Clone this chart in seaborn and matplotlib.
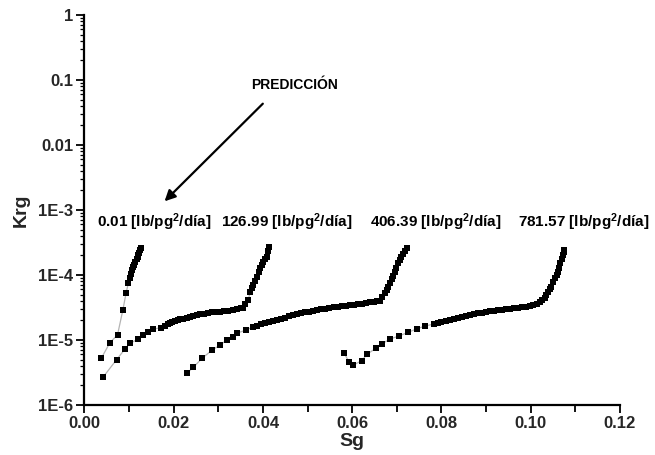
import matplotlib
matplotlib.use("Agg")
import matplotlib.pyplot as plt
import matplotlib.ticker as mticker
import numpy as np
import pandas as pd
import seaborn as sns

# Gas saturation (Sg) and gas relative permeability (Krg) for each injection rate
rate_labels = ["0.01", "126.99", "406.39", "781.57"]

sg_001 = [0.0038, 0.0057, 0.0074, 0.0086, 0.0093, 0.0098, 0.0101, 0.0104, 0.0107,
          0.0109, 0.0112, 0.0114, 0.0117, 0.0119, 0.0121, 0.0123, 0.0125, 0.0126]
krg_001 = [5.3e-6, 9.1e-6, 1.2e-5, 2.9e-5, 5.2e-5, 7.4e-5, 9.0e-5, 1.05e-4, 1.2e-4,
           1.32e-4, 1.45e-4, 1.58e-4, 1.75e-4, 1.9e-4, 2.05e-4, 2.2e-4, 2.4e-4, 2.6e-4]

sg_127 = [0.0042, 0.0072, 0.0091, 0.0102, 0.0121, 0.0132, 0.0143, 0.0153, 0.0171,
          0.0180, 0.0186, 0.0192, 0.0197, 0.0203, 0.0209, 0.0214, 0.0220, 0.0229,
          0.0236, 0.0244, 0.0251, 0.0259, 0.0268, 0.0277, 0.0286, 0.0295, 0.0304,
          0.0313, 0.0322, 0.0333, 0.0342, 0.0350, 0.0356, 0.0360, 0.0367, 0.0371,
          0.0375, 0.0378, 0.0382, 0.0386, 0.0390, 0.0393, 0.0397, 0.0400, 0.0404,
          0.0408, 0.0411, 0.0413]
krg_127 = [2.7e-6, 5.0e-6, 7.3e-6, 8.9e-6, 1.04e-5, 1.19e-5, 1.34e-5, 1.46e-5, 1.55e-5,
           1.66e-5, 1.75e-5, 1.85e-5, 1.92e-5, 1.98e-5, 2.03e-5, 2.08e-5, 2.13e-5, 2.2e-5,
           2.27e-5, 2.34e-5, 2.41e-5, 2.48e-5, 2.55e-5, 2.63e-5, 2.66e-5, 2.69e-5, 2.72e-5,
           2.78e-5, 2.84e-5, 2.9e-5, 2.98e-5, 3.06e-5, 3.14e-5, 3.6e-5, 4.1e-5, 5.5e-5,
           6.2e-5, 7.0e-5, 8.2e-5, 9.4e-5, 1.1e-4, 1.27e-4, 1.43e-4, 1.6e-4, 1.75e-4,
           1.91e-4, 2.3e-4, 2.7e-4]

sg_406 = [0.0230, 0.0244, 0.0263, 0.0285, 0.0304, 0.0319, 0.0333, 0.0341, 0.0363,
          0.0378, 0.0387, 0.0396, 0.0405, 0.0414, 0.0423, 0.0432, 0.0441, 0.0450,
          0.0459, 0.0468, 0.0477, 0.0486, 0.0495, 0.0504, 0.0513, 0.0522, 0.0531,
          0.0540, 0.0549, 0.0558, 0.0567, 0.0576, 0.0585, 0.0594, 0.0603, 0.0612,
          0.0621, 0.0630, 0.0639, 0.0648, 0.0656, 0.0662, 0.0667, 0.0673, 0.0677,
          0.0680, 0.0684, 0.0688, 0.0692, 0.0695, 0.0699, 0.0703, 0.0707, 0.0710,
          0.0714, 0.0718, 0.0723]
krg_406 = [3.1e-6, 3.8e-6, 5.2e-6, 6.9e-6, 8.4e-6, 1.0e-5, 1.12e-5, 1.27e-5, 1.43e-5,
           1.6e-5, 1.67e-5, 1.75e-5, 1.83e-5, 1.9e-5, 1.97e-5, 2.05e-5, 2.12e-5, 2.2e-5,
           2.3e-5, 2.4e-5, 2.5e-5, 2.58e-5, 2.66e-5, 2.74e-5, 2.82e-5, 2.9e-5, 2.97e-5,
           3.05e-5, 3.12e-5, 3.18e-5, 3.24e-5, 3.3e-5, 3.36e-5, 3.42e-5, 3.5e-5, 3.56e-5,
           3.64e-5, 3.72e-5, 3.8e-5, 3.88e-5, 3.95e-5, 4.05e-5, 4.6e-5, 5.2e-5, 5.9e-5,
           6.6e-5, 7.6e-5, 8.6e-5, 9.8e-5, 1.12e-4, 1.3e-4, 1.51e-4, 1.7e-4, 1.91e-4,
           2.1e-4, 2.36e-4, 2.57e-4]

sg_782 = [0.0581, 0.0593, 0.0602, 0.0621, 0.0633, 0.0653, 0.0666, 0.0684, 0.0704,
          0.0725, 0.0744, 0.0763, 0.0783, 0.0792, 0.0800, 0.0809, 0.0818, 0.0827,
          0.0836, 0.0845, 0.0854, 0.0863, 0.0872, 0.0881, 0.0890, 0.0899, 0.0908,
          0.0917, 0.0926, 0.0935, 0.0944, 0.0953, 0.0962, 0.0971, 0.0980, 0.0989,
          0.0998, 0.1006, 0.1013, 0.1020, 0.1026, 0.1031, 0.1035, 0.1039, 0.1043,
          0.1046, 0.1050, 0.1054, 0.1058, 0.1061, 0.1063, 0.1065, 0.1069, 0.1072,
          0.1074, 0.1075]
krg_782 = [6.4e-6, 4.6e-6, 4.1e-6, 4.8e-6, 6.0e-6, 7.5e-6, 8.7e-6, 1.03e-5, 1.15e-5,
           1.31e-5, 1.48e-5, 1.64e-5, 1.76e-5, 1.82e-5, 1.9e-5, 1.98e-5, 2.06e-5, 2.12e-5,
           2.19e-5, 2.26e-5, 2.34e-5, 2.42e-5, 2.5e-5, 2.57e-5, 2.64e-5, 2.7e-5, 2.76e-5,
           2.82e-5, 2.88e-5, 2.93e-5, 2.98e-5, 3.04e-5, 3.1e-5, 3.15e-5, 3.2e-5, 3.27e-5,
           3.35e-5, 3.45e-5, 3.6e-5, 3.8e-5, 4.1e-5, 4.4e-5, 5.0e-5, 5.5e-5, 6.1e-5,
           6.6e-5, 7.7e-5, 8.9e-5, 1.0e-4, 1.12e-4, 1.3e-4, 1.51e-4, 1.75e-4, 2.03e-4,
           2.25e-4, 2.45e-4]

x_ticks = [0.00, 0.02, 0.04, 0.06, 0.08, 0.10, 0.12]
y_ticks = [1e-6, 1e-5, 1e-4, 1e-3, 1e-2, 1e-1, 1]
y_tick_labels = ["1E-6", "1E-5", "1E-4", "1E-3", "0.01", "0.1", "1"]

# Label anchor (Sg) for each curve's rate annotation
label_sg = [0.0028, 0.0307, 0.0639, 0.0971]
label_krg = 6.5e-4

frames = []
for lab, s, k in zip(rate_labels,
                     [sg_001, sg_127, sg_406, sg_782],
                     [krg_001, krg_127, krg_406, krg_782]):
    frames.append(pd.DataFrame({"Sg": s, "Krg": k, "rate": lab}))
df = pd.concat(frames, ignore_index=True)

sns.set_style("ticks")
plt.rcParams["font.family"] = ["Liberation Sans", "DejaVu Sans"]
plt.rcParams["font.weight"] = "bold"
plt.rcParams["mathtext.fontset"] = "custom"
plt.rcParams["mathtext.rm"] = "Liberation Sans:bold"
plt.rcParams["mathtext.bf"] = "Liberation Sans:bold"
plt.rcParams["mathtext.it"] = "Liberation Sans:bold"

fig = plt.figure(figsize=(6.55, 4.55), dpi=100)
ax = fig.add_axes([84.5 / 655, 50 / 455, (620 - 84.5) / 655, (405 - 15) / 455])

for lab in rate_labels:
    sub = df[df["rate"] == lab]
    sns.lineplot(data=sub, x="Sg", y="Krg", ax=ax, color="#b4b4b4", linewidth=0.9,
                 estimator=None, sort=False, legend=False)
    sns.scatterplot(data=sub, x="Sg", y="Krg", ax=ax, color="black", marker="s",
                    s=22, linewidth=0, legend=False, zorder=3)

ax.set_yscale("log")
ax.set_xlim(0, 0.12)
ax.set_ylim(1e-6, 1)

ax.set_xticks(x_ticks)
ax.set_xticklabels([f"{v:.2f}" for v in x_ticks])
ax.xaxis.set_minor_locator(mticker.MultipleLocator(0.01))
ax.set_yticks(y_ticks)
ax.set_yticklabels(y_tick_labels)
ax.yaxis.set_minor_locator(mticker.LogLocator(base=10, subs=np.arange(2, 10), numticks=20))
ax.yaxis.set_minor_formatter(mticker.NullFormatter())

for sp in ["top", "right"]:
    ax.spines[sp].set_visible(False)
for sp in ["left", "bottom"]:
    ax.spines[sp].set_linewidth(1.6)
    ax.spines[sp].set_color("black")

ax.tick_params(axis="both", which="major", direction="out", length=6, width=1.3,
               color="black", labelsize=12, pad=2)
ax.tick_params(axis="x", which="minor", direction="out", length=5, width=1.3, color="black")
ax.tick_params(axis="y", which="minor", direction="out", length=3, width=0.9, color="black")
for t in ax.get_xticklabels() + ax.get_yticklabels():
    t.set_fontweight("bold")

ax.set_xlabel("Sg", fontsize=14, fontweight="bold", labelpad=1)
ax.set_ylabel("Krg", fontsize=14, fontweight="bold", labelpad=6)

for lab, xs in zip(rate_labels, label_sg):
    ax.text(xs, label_krg, lab + r" [lb/pg$^{2}$/día]", fontsize=11, fontweight="bold",
            ha="left", va="center", color="black")

ax.annotate("", xy=(0.0175, 1.27e-3), xytext=(0.0404, 0.0463),
            arrowprops=dict(arrowstyle="-|>", color="black", lw=1.6, mutation_scale=16))
ax.text(0.0471, 0.0837, "PREDICCIÓN", fontsize=10, fontweight="bold",
        ha="center", va="center", color="black")

fig.savefig("out.png", dpi=100)
